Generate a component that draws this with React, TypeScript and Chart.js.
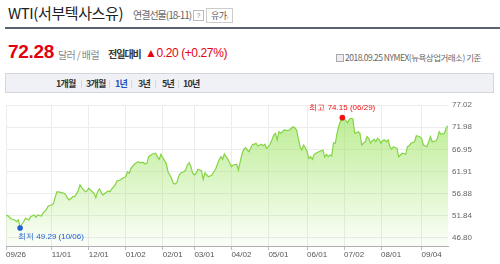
import React, { useEffect, useRef } from "react";
import { Chart, registerables } from "chart.js";

Chart.register(...registerables);

// trading-day index (0 = 2017-09-26, 251 = 2018-09-25)
const dayIndex = [
  0, 1, 3, 5, 6, 7, 8, 10, 11, 13, 14, 16, 17, 18, 20, 21, 23, 24, 26, 27, 28, 29, 31, 33, 34, 35, 36, 38, 39,
  41, 42, 43, 45, 46, 47, 49, 50, 51, 52, 53, 55, 56, 58, 59, 60, 62, 63, 65, 66, 68, 69, 70, 71, 73, 75, 76,
  78, 79, 80, 81, 83, 85, 86, 87, 88, 89, 91, 92, 94, 95, 96, 97, 98, 99, 101, 102, 103, 104, 105, 106, 107,
  108, 109, 111, 112, 113, 114, 115, 117, 118, 119, 121, 122, 123, 124, 125, 126, 127, 128, 129, 131, 132,
  133, 134, 135, 136, 137, 138, 140, 141, 142, 143, 145, 146, 147, 148, 150, 151, 152, 153, 154, 155, 156,
  157, 158, 160, 161, 162, 163, 164, 165, 166, 167, 168, 169, 170, 171, 172, 173, 174, 175, 176, 177, 179,
  180, 181, 182, 183, 184, 185, 186, 187, 188, 189, 190, 191, 192, 193, 194, 195, 196, 197, 198, 199, 200,
  201, 202, 203, 204, 205, 206, 207, 208, 209, 210, 211, 212, 213, 214, 215, 216, 217, 218, 219, 220, 222,
  223, 224, 225, 227, 228, 229, 230, 232, 233, 235, 236, 237, 239, 240, 241, 242, 244, 245, 246, 247, 249,
  250, 251,
];

// WTI price (USD / barrel)
const prices = [
  51.87, 51.9, 51.12, 50.89, 50.5, 50.89, 49.29, 50.5, 51.28, 50.89, 51.64, 52.03, 51.5, 52.03, 51.8, 52.41,
  53.32, 54.07, 54.3, 54.68, 56.18, 57.32, 57.18, 56.96, 56.57, 55.82, 55.43, 56.18, 56.2, 57.48, 58.84,
  58.23, 57.32, 57.48, 58.09, 57.32, 56.96, 55.96, 57.32, 57.93, 56.57, 56.91, 57.48, 57.32, 57.93, 58.84,
  59.75, 59.98, 60.36, 60.73, 61.86, 61.5, 62.64, 63.61, 64.14, 63.91, 63.98, 63.61, 63.77, 65.27, 65.82,
  66.05, 65.27, 64.68, 65.82, 65.05, 63.77, 61.86, 60.36, 59.23, 59.07, 59.37, 60.73, 61.5, 61.86, 62.25,
  63.39, 63.91, 63.0, 61.5, 61.11, 61.5, 62.41, 62.09, 60.14, 61.64, 61.11, 60.73, 61.11, 61.86, 62.41,
  64.52, 65.27, 64.68, 65.89, 65.27, 64.68, 63.9, 63.0, 63.39, 63.55, 62.25, 64.14, 65.82, 66.95, 67.32,
  66.8, 66.41, 68.09, 68.09, 68.32, 67.7, 68.09, 67.77, 68.09, 67.18, 68.09, 69.07, 70.2, 70.59, 69.07,
  70.95, 70.59, 70.95, 71.34, 71.18, 71.34, 71.73, 72.09, 71.86, 71.34, 69.45, 67.54, 66.8, 67.93, 67.32,
  66.41, 64.91, 65.27, 64.68, 65.82, 66.05, 66.27, 66.64, 66.8, 65.14, 65.82, 65.27, 65.66, 65.43, 68.45,
  68.32, 70.59, 72.25, 73.45, 74.15, 74.0, 73.45, 73.0, 73.77, 74.0, 73.84, 70.59, 70.73, 70.95, 70.59,
  67.93, 68.32, 68.68, 69.82, 69.45, 68.32, 68.91, 69.23, 68.68, 69.45, 69.07, 68.32, 69.0, 69.07, 68.68,
  69.07, 67.54, 67.02, 67.54, 67.18, 65.27, 65.66, 66.05, 65.82, 67.54, 67.77, 68.32, 68.68, 70.04, 69.82,
  69.45, 67.93, 67.54, 68.68, 69.82, 68.68, 68.84, 69.45, 70.95, 70.36, 70.59, 71.86, 72.28,
];

const tickIndex = [0, 26, 47, 68, 89, 107, 128, 149, 171, 192, 213, 236];
const tickLabels = ["09/26", "11/01", "12/01", "01/02", "02/01", "03/01", "04/02", "05/01", "06/01", "07/02", "08/01", "09/04"];
const yTicks = [46.8, 51.84, 56.88, 61.91, 66.95, 71.98, 77.02];
const yMin = 44.98;
const lastIndex = 251;
const highText = "최고 74.15 (06/29)";
const lowText = "최저 49.29 (10/06)";

const KR = "'Noto Sans CJK KR', 'Liberation Sans', sans-serif";
const NUM = "'Liberation Sans', Arial, sans-serif";

const markerPlugin = {
  id: "hiLo",
  afterDatasetsDraw(chart: any) {
    const { ctx, scales } = chart;
    const xs = scales.x;
    const ys = scales.y;
    let hi = 0;
    let lo = 0;
    prices.forEach((v, i) => {
      if (v > prices[hi]) hi = i;
      if (v < prices[lo]) lo = i;
    });
    ctx.save();
    ctx.font = `8px ${NUM}`;
    const hx = xs.getPixelForValue(dayIndex[hi]);
    const hy = ys.getPixelForValue(prices[hi]);
    ctx.fillStyle = "#f01010";
    ctx.beginPath();
    ctx.arc(hx, hy, 2.8, 0, Math.PI * 2);
    ctx.fill();
    ctx.textAlign = "center";
    ctx.textBaseline = "middle";
    ctx.fillText(highText, hx, hy - 9.5);
    const lx = xs.getPixelForValue(dayIndex[lo]);
    const ly = ys.getPixelForValue(prices[lo]);
    ctx.fillStyle = "#1f5fd6";
    ctx.beginPath();
    ctx.arc(lx, ly + 1, 2.8, 0, Math.PI * 2);
    ctx.fill();
    ctx.textAlign = "left";
    ctx.fillText(lowText, lx - 2, ly + 10);
    ctx.restore();
  },
};

function WtiChart() {
  const ref = useRef<HTMLCanvasElement | null>(null);
  useEffect(() => {
    if (!ref.current) return;
    const points = dayIndex.map((d, i) => ({ x: d, y: prices[i] }));
    const chart = new Chart(ref.current, {
      type: "line",
      data: {
        datasets: [
          {
            data: points,
            borderColor: "#84d444",
            borderWidth: 1.2,
            pointRadius: 0,
            tension: 0,
            fill: "start",
            backgroundColor: (c: any) => {
              const area = c.chart.chartArea;
              if (!area) return "rgba(170,230,120,0.4)";
              const g = c.chart.ctx.createLinearGradient(0, area.top, 0, area.bottom);
              g.addColorStop(0, "rgba(150,226,86,0.68)");
              g.addColorStop(1, "rgba(150,226,86,0.04)");
              return g;
            },
          },
        ],
      },
      options: {
        animation: false,
        responsive: false,
        devicePixelRatio: 1,
        layout: { padding: { left: 6, top: 10, right: 0, bottom: 0 } },
        plugins: { legend: { display: false }, tooltip: { enabled: false } },
        scales: {
          x: {
            type: "linear",
            min: 0,
            max: lastIndex,
            afterBuildTicks: (s: any) => {
              s.ticks = tickIndex.map((v) => ({ value: v }));
            },
            afterFit: (s: any) => {
              s.height = 18;
            },
            ticks: {
              autoSkip: false,
              maxRotation: 0,
              align: "start",
              padding: 0,
              color: "#555",
              font: { size: 8, family: NUM },
              callback: (v: any) => {
                const i = tickIndex.indexOf(Number(v));
                return i >= 0 ? tickLabels[i] : "";
              },
            },
            grid: { color: "#ececec", tickColor: "#bbb", tickLength: 4, drawTicks: true },
            border: { display: true, color: "#b0b0b0" },
          },
          y: {
            position: "right",
            min: yMin,
            max: 77.02,
            afterBuildTicks: (s: any) => {
              s.ticks = yTicks.map((v) => ({ value: v }));
            },
            afterFit: (s: any) => {
              s.width = 52;
            },
            ticks: {
              padding: 4,
              color: "#666",
              font: { size: 8, family: NUM },
              callback: (v: any) => Number(v).toFixed(2),
            },
            grid: { color: "#ececec", drawTicks: false },
            border: { display: false },
          },
        },
      },
      plugins: [markerPlugin],
    });
    return () => chart.destroy();
  }, []);
  return <canvas ref={ref} width={500} height={169} style={{ position: "absolute", left: 0, top: 95, width: 500, height: 169 }} />;
}

const abs = (left: number, top: number, extra: React.CSSProperties = {}): React.CSSProperties => ({
  position: "absolute",
  left,
  top,
  whiteSpace: "nowrap",
  ...extra,
});

export default function App() {
  const tabs = ["1개월", "3개월", "1년", "3년", "5년", "10년"];
  const tabLeft = [56, 86, 115, 138, 162, 183];
  const sepLeft = [81, 109, 131, 155, 178];
  return (
    <div style={{ position: "fixed", left: 0, top: 0, width: 500, height: 264, background: "#fff", overflow: "hidden", fontFamily: KR }}>
      <div style={abs(8, 4, { fontSize: 15, lineHeight: "18px", color: "#222", letterSpacing: "-0.4px" })}>WTI(서부텍사스유)</div>
      <div style={abs(133, 9, { fontSize: 10, lineHeight: "12px", color: "#666", letterSpacing: "-1px" })}>연결선물(18-11)</div>
      <div style={abs(193, 10, { width: 9, height: 9, border: "1px solid #bbb", fontSize: 7, lineHeight: "9px", textAlign: "center", color: "#888", fontFamily: NUM })}>?</div>
      <div style={abs(206, 8, { width: 25, height: 13, border: "1px solid #ccc", fontSize: 9, lineHeight: "13px", color: "#555", letterSpacing: "-0.5px", textAlign: "center" })}>
        유가<span style={{ fontSize: 7, color: "#999" }}>›</span>
      </div>
      <div style={abs(5, 27, { width: 495, height: 2, background: "#5c6270" })} />

      <div style={abs(8, 41, { fontSize: 19, lineHeight: "22px", color: "#e4000f", fontWeight: 700, fontFamily: NUM, letterSpacing: "-0.3px" })}>72.28</div>
      <div style={abs(58, 48, { fontSize: 10, lineHeight: "13px", color: "#888", letterSpacing: "-0.6px" })}>달러 / 배럴</div>
      <div style={abs(108, 47, { fontSize: 10, lineHeight: "14px", color: "#333", fontWeight: 700, letterSpacing: "-1px" })}>전일대비</div>
      <div style={abs(145, 46, { fontSize: 12, lineHeight: "14px", color: "#e4000f", fontFamily: NUM, letterSpacing: "-0.4px" })}>▲0.20 (+0.27%)</div>

      <div style={abs(336, 54, { width: 6, height: 6, border: "1px solid #aaa", background: "#eee" })} />
      <div style={abs(345, 51, { fontSize: 8.5, lineHeight: "12px", color: "#666", letterSpacing: "-0.5px" })}>2018.09.25 NYMEX(뉴욕상업거래소) 기준</div>

      <div style={abs(5, 73, { width: 487, height: 18, border: "1px solid #d4d6dc", background: "#f0f1f6" })} />
      {tabs.map((t, i) => (
        <div key={t} style={abs(tabLeft[i], 77, { fontSize: 9, lineHeight: "13px", fontWeight: 700, color: t === "1년" ? "#2a4fbf" : "#333", letterSpacing: "-0.8px" })}>
          {t}
        </div>
      ))}
      {sepLeft.map((x) => (
        <div key={x} style={abs(x, 80, { width: 1, height: 8, background: "#d6d8dc" })} />
      ))}

      <WtiChart />
    </div>
  );
}
